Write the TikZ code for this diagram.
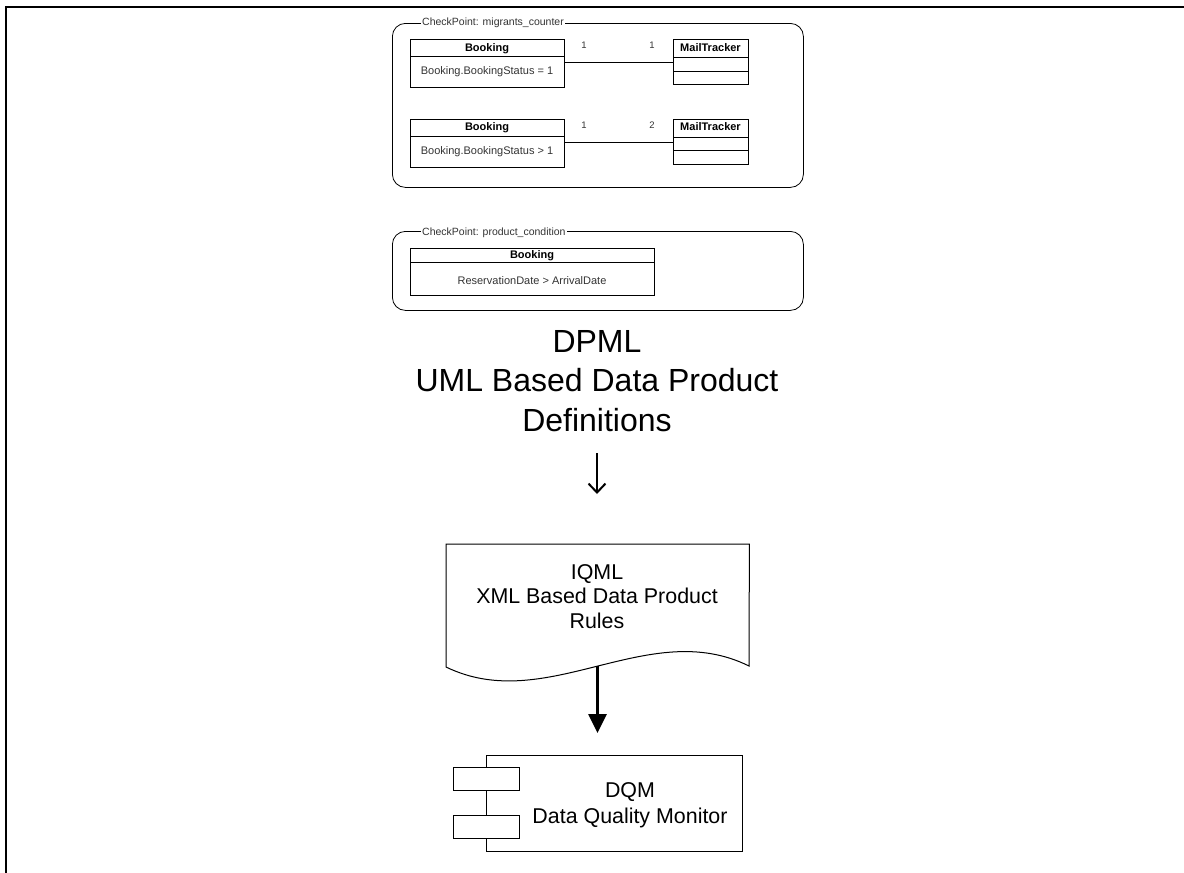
\documentclass[tikz,border=0pt]{standalone}
\usepackage{fontspec}
\setmainfont{Liberation Sans}
\usetikzlibrary{arrows.meta}
\begin{document}
\begin{tikzpicture}[x=1pt,y=-1pt,
  cpframe/.style={draw, rounded corners=13pt, line width=0.8pt, inner sep=0pt, anchor=north west},
  cptitle/.style={fill=white, inner xsep=1pt, inner ysep=0pt, anchor=base west, text=black!80, font=\fontsize{10.5}{12}\selectfont},
  umlbox/.style={draw, line width=0.8pt, inner sep=0pt, anchor=north west},
  umlline/.style={line width=0.8pt},
  hdr/.style={inner sep=0pt, anchor=base, font=\fontsize{11}{13}\selectfont\bfseries},
  bodytxt/.style={inner sep=0pt, anchor=base, text=black!80, font=\fontsize{11}{13}\selectfont},
  mult/.style={inner sep=0pt, anchor=base, text=black!80, font=\fontsize{9.5}{11}\selectfont},
  bigtext/.style={inner sep=0pt, anchor=base, align=center, font=\fontsize{32}{39.5}\selectfont},
  midtext/.style={inner sep=0pt, anchor=base, align=center, font=\fontsize{21.4}{24.5}\selectfont},
  shapeline/.style={line width=1pt},
  comp/.style={draw, line width=1.3pt, inner sep=0pt, anchor=north west},
  compsmall/.style={draw, fill=white, line width=1.3pt, inner sep=0pt, anchor=north west, minimum width=66, minimum height=23}
]
\useasboundingbox (0,0) rectangle (1184,873);
% outer frame
\draw[line width=2pt] (5.7,873) -- (5.7,6.7) -- (1184,6.7);

% ---- CheckPoint 1
\node[cpframe, minimum width=411, minimum height=164] (cp1) at (392,23) {};
\node[cptitle] (cp1t) at (421,25) {CheckPoint: migrants\_counter};

\node[umlbox, minimum width=154, minimum height=48] (b1) at (410,39) {};
\draw[umlline] (410,56) -- (564,56);
\node[hdr] (b1h) at (487,51) {Booking};
\node[bodytxt] (b1b) at (487,74) {Booking.BookingStatus = 1};

\node[umlbox, minimum width=75, minimum height=45] (m1) at (673,39) {};
\draw[umlline] (673,57) -- (748,57);
\draw[umlline] (673,71) -- (748,71);
\node[hdr] (m1h) at (710.5,51) {MailTracker};

\draw[umlline] (b1.east |- 0,62) -- (m1.west |- 0,62);
\node[mult] (l1a) at (584,48) {1};
\node[mult] (l1b) at (652,48) {1};

\node[umlbox, minimum width=154, minimum height=48] (b2) at (410,119) {};
\draw[umlline] (410,136) -- (564,136);
\node[hdr] (b2h) at (487,130.5) {Booking};
\node[bodytxt] (b2b) at (487,154) {Booking.BookingStatus > 1};

\node[umlbox, minimum width=75, minimum height=45] (m2) at (673,119) {};
\draw[umlline] (673,137) -- (748,137);
\draw[umlline] (673,150) -- (748,150);
\node[hdr] (m2h) at (710.5,130.5) {MailTracker};

\draw[umlline] (b2.east |- 0,142) -- (m2.west |- 0,142);
\node[mult] (l2a) at (584,128) {1};
\node[mult] (l2b) at (652,128) {2};

% ---- CheckPoint 2
\node[cpframe, minimum width=411, minimum height=79] (cp2) at (392,231) {};
\node[cptitle] (cp2t) at (421,235) {CheckPoint: product\_condition};

\node[umlbox, minimum width=244, minimum height=47] (b3) at (410,248) {};
\draw[umlline] (410,262.3) -- (654,262.3);
\node[hdr] (b3h) at (532,258.3) {Booking};
\node[bodytxt] (b3b) at (532,284) {ReservationDate > ArrivalDate};

% ---- DPML text
\node[bigtext] (dpml) at (597,431) {DPML\\UML Based Data Product\\Definitions};
\coordinate (a1s) at (597,453);
\coordinate (a1e) at (597,494);
\draw[line width=2pt, -{Straight Barb[length=9pt,width=17pt,line width=2pt]}] (a1s) -- (a1e);

% ---- IQML document
\node[inner sep=0pt, minimum width=303, minimum height=122, anchor=north west] (doc) at (446,544) {};
\draw[shapeline] (doc.north west) -- (doc.north east) -- (749,666)
  .. controls (648,616) and (547,716) .. (446,667) -- cycle;
\node[midtext] (iqml) at (597,628) {IQML\\XML Based Data Product\\Rules};

% ---- DQM component
\node[comp, minimum width=256, minimum height=96] (dqm) at (486,755) {};
\node[compsmall] (c1) at (453,767) {};
\node[compsmall] (c2) at (453,815) {};
\node[midtext, font=\fontsize{21.4}{25.5}\selectfont] (dqmt) at (630,823) {DQM\\Data Quality Monitor};

\coordinate (a2s) at (597.5,666);
\coordinate (a2e) at (597.5,733);
\draw[line width=2.7pt, -{Triangle[length=19pt,width=18pt]}] (a2s) -- (a2e);
\end{tikzpicture}
\end{document}
